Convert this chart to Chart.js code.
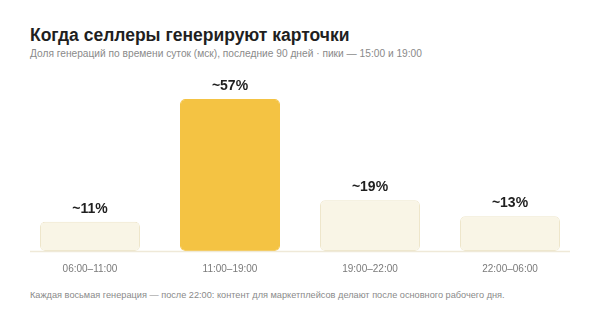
<!DOCTYPE html>
<html>
<head>
<meta charset="utf-8">
<script src="https://cdn.jsdelivr.net/npm/chart.js@4"></script>
<style>
  body { margin: 0; width: 600px; height: 320px; background: #fff; font-family: "Liberation Sans", Arial, sans-serif; position: relative; overflow: hidden; }
  #title { position: absolute; left: 30px; top: 25px; font-size: 17.5px; font-weight: bold; color: #1f1f1f; }
  #sub { position: absolute; left: 30px; top: 48px; font-size: 10.2px; color: #8a8a8a; }
  #foot { position: absolute; left: 30px; top: 290px; font-size: 9.2px; color: #8a8a8a; }
  #wrap { position: absolute; left: 0; top: 60px; width: 600px; height: 230px; }
</style>
</head>
<body>
<div id="title">Когда селлеры генерируют карточки</div>
<div id="sub">Доля генераций по времени суток (мск), последние 90 дней · пики — 15:00 и 19:00</div>
<div id="wrap"><canvas id="barChart"></canvas></div>
<div id="foot">Каждая восьмая генерация — после 22:00: контент для маркетплейсов делают после основного рабочего дня.</div>
<script>
var slots = ["06:00–11:00", "11:00–19:00", "19:00–22:00", "22:00–06:00"];
var shares = [11, 57, 19, 13];
var shareLabels = ["~11%", "~57%", "~19%", "~13%"];
var peakIndex = 1;

// value labels above bars + baseline line
var extrasPlugin = {
    id: 'extras',
    afterDatasetsDraw: function(chart) {
        var ctx = chart.ctx;
        var area = chart.chartArea;
        ctx.save();
        ctx.strokeStyle = '#EFE9D8';
        ctx.lineWidth = 1.5;
        ctx.beginPath();
        ctx.moveTo(area.left + 10, area.bottom + 0.5);
        ctx.lineTo(area.right - 10, area.bottom + 0.5);
        ctx.stroke();

        ctx.fillStyle = '#1f1f1f';
        ctx.font = 'bold 14px "Liberation Sans", Arial, sans-serif';
        ctx.textAlign = 'center';
        ctx.textBaseline = 'bottom';
        chart.getDatasetMeta(0).data.forEach(function(bar, i) {
            ctx.fillText(shareLabels[i], bar.x, bar.y - 6);
        });
        ctx.restore();
    }
};

var chart = new Chart(document.getElementById("barChart"), {
    type: 'bar',
    data: {
        labels: slots,
        datasets: [{
            data: shares,
            backgroundColor: shares.map(function(v, i) { return i === peakIndex ? '#F4C343' : '#F9F5E6'; }),
            borderColor: shares.map(function(v, i) { return i === peakIndex ? '#F4C343' : '#EEE6CB'; }),
            borderWidth: 1,
            borderRadius: 5,
            borderSkipped: false,
            categoryPercentage: 100 / 140,
            barPercentage: 1
        }]
    },
    options: {
        responsive: true,
        maintainAspectRatio: false,
        animation: false,
        layout: { padding: { left: 20, right: 20, top: 39, bottom: 3 } },
        plugins: { legend: { display: false }, tooltip: { enabled: false } },
        scales: {
            y: { display: false, min: 0, max: 57 },
            x: {
                grid: { display: false, drawTicks: false },
                border: { display: false },
                ticks: { color: '#7a7a7a', padding: 12, font: { size: 10, family: '"Liberation Sans", Arial, sans-serif' } }
            }
        }
    },
    plugins: [extrasPlugin]
});
</script>
</body>
</html>
